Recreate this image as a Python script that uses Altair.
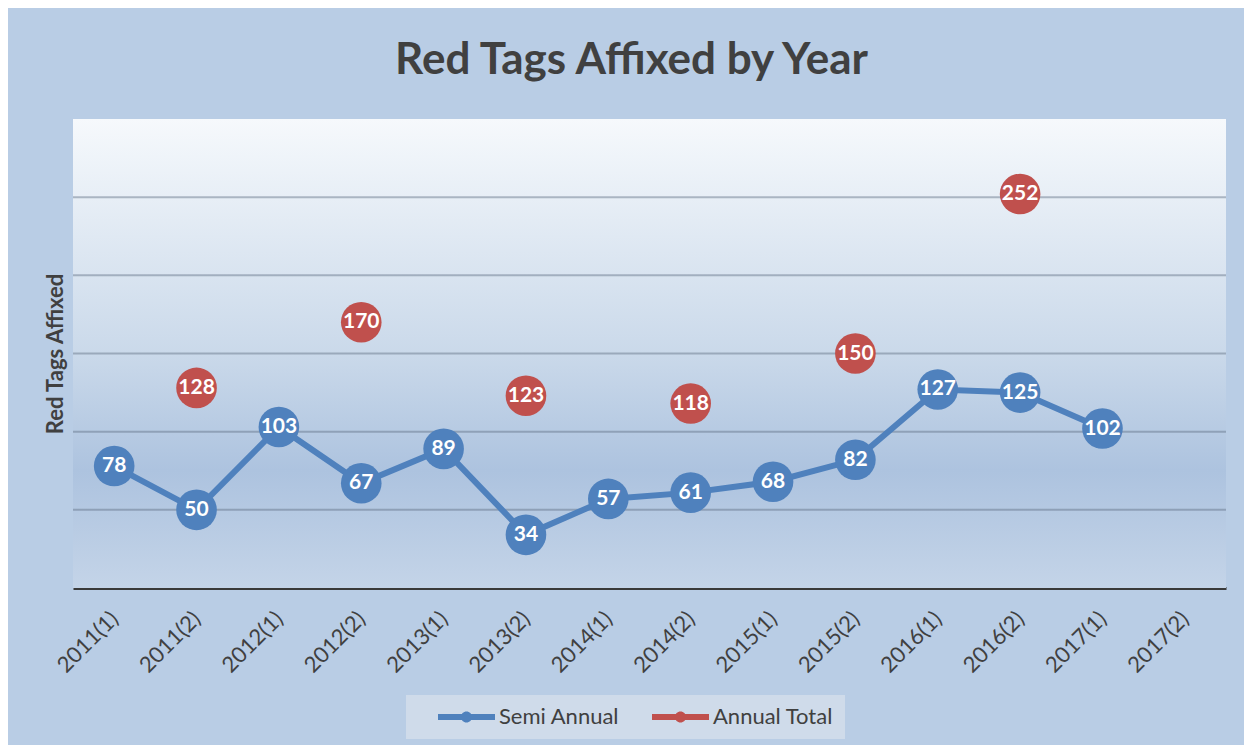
import altair as alt
import pandas as pd

periods = ["2011(1)", "2011(2)", "2012(1)", "2012(2)", "2013(1)", "2013(2)", "2014(1)",
           "2014(2)", "2015(1)", "2015(2)", "2016(1)", "2016(2)", "2017(1)", "2017(2)"]
semi_periods = periods[:13]
semi_values = [78, 50, 103, 67, 89, 34, 57, 61, 68, 82, 127, 125, 102]
annual_periods = ["2011(2)", "2012(2)", "2013(2)", "2014(2)", "2015(2)", "2016(2)"]
annual_values = [128, 170, 123, 118, 150, 252]
series_names = ["Semi Annual", "Annual Total"]
series_colors = ["#4f81bd", "#c0504d"]
grid_values = [50, 100, 150, 200, 250]
y_domain = [0, 300]

rows = [{"period": p, "series": "Semi Annual", "value": v} for p, v in zip(semi_periods, semi_values)]
rows += [{"period": p, "series": "Annual Total", "value": v} for p, v in zip(annual_periods, annual_values)]
df = pd.DataFrame(rows)
grid_df = pd.DataFrame({"value": grid_values})
bg_df = pd.DataFrame({"value": [0]})

FONT = "Lato"
TEXT = "#404040"

x_enc = alt.X("period:N", sort=periods,
              scale=alt.Scale(type="point", domain=periods, padding=0.5),
              axis=alt.Axis(title=None, labelAngle=-45, labelAlign="right", labelBaseline="middle",
                            labelFontSize=22, labelFont=FONT, labelColor=TEXT, labelPadding=27,
                            ticks=False, domainColor="#3a3a3a", domainWidth=3, grid=False))
y_enc = alt.Y("value:Q", scale=alt.Scale(domain=y_domain, nice=False, zero=True),
              axis=alt.Axis(title="Red Tags Affixed", labels=False, ticks=False, domain=False, grid=False,
                            titleFont=FONT, titleFontSize=22, titleFontWeight="bold", titleColor=TEXT,
                            titlePadding=6))

grad = alt.Gradient(gradient="linear", x1=0, x2=0, y1=0, y2=1,
                    stops=[alt.GradientStop(color="#f6f9fc", offset=0),
                           alt.GradientStop(color="#cad9ea", offset=0.5),
                           alt.GradientStop(color="#adc3df", offset=0.75),
                           alt.GradientStop(color="#c4d4e8", offset=1)])

bg = alt.Chart(bg_df).mark_rect(fill=grad).encode(
    x=alt.value(0), x2=alt.value("width"), y=alt.value(0), y2=alt.value("height"))

grid = alt.Chart(grid_df).mark_rule(color="#5f6f82", opacity=0.45, strokeWidth=2).encode(y=y_enc)

line = alt.Chart(df).transform_filter(alt.datum.series == "Semi Annual").mark_line(
    color="#4f81bd", strokeWidth=6).encode(x=x_enc, y=y_enc)

# legend glyph: a short line with a dot in its middle (units of half the nominal symbol size)
legend_path = ("M1,-0.3H6.7V0.3H1Z "
               "M3.3,0A0.55,0.55,0,1,1,4.4,0A0.55,0.55,0,1,1,3.3,0Z")

dots = alt.Chart(df).mark_circle(size=1650, opacity=1).encode(
    x=x_enc, y=y_enc,
    color=alt.Color("series:N", scale=alt.Scale(domain=series_names, range=series_colors),
                    legend=alt.Legend(title=None, orient="none", legendX=333, legendY=576,
                                      direction="horizontal", symbolType=legend_path,
                                      symbolSize=400, symbolStrokeWidth=0, symbolOpacity=1,
                                      fillColor="#cfdbea", padding=11, columnPadding=11,
                                      labelFont=FONT, labelFontSize=22, labelColor=TEXT,
                                      labelOffset=60)))

labels = alt.Chart(df).mark_text(color="white", font=FONT, fontWeight="bold", fontSize=21,
                                 baseline="middle", align="center").encode(
    x=x_enc, y=y_enc, text=alt.Text("value:Q"))

chart = alt.layer(bg, grid, line, dots, labels).properties(
    width=1153, height=469,
    title=alt.TitleParams("Red Tags Affixed by Year", font=FONT, fontSize=44, fontWeight="bold",
                          color=TEXT, anchor="middle", dx=-18, offset=36),
    autosize=alt.AutoSizeParams(type="none"),
    padding={"left": 65, "top": 111, "right": 18, "bottom": 157},
    background="#b9cde5",
).configure_view(stroke=None)

chart.save("out.html", embed_options={"renderer": "svg", "actions": False})
